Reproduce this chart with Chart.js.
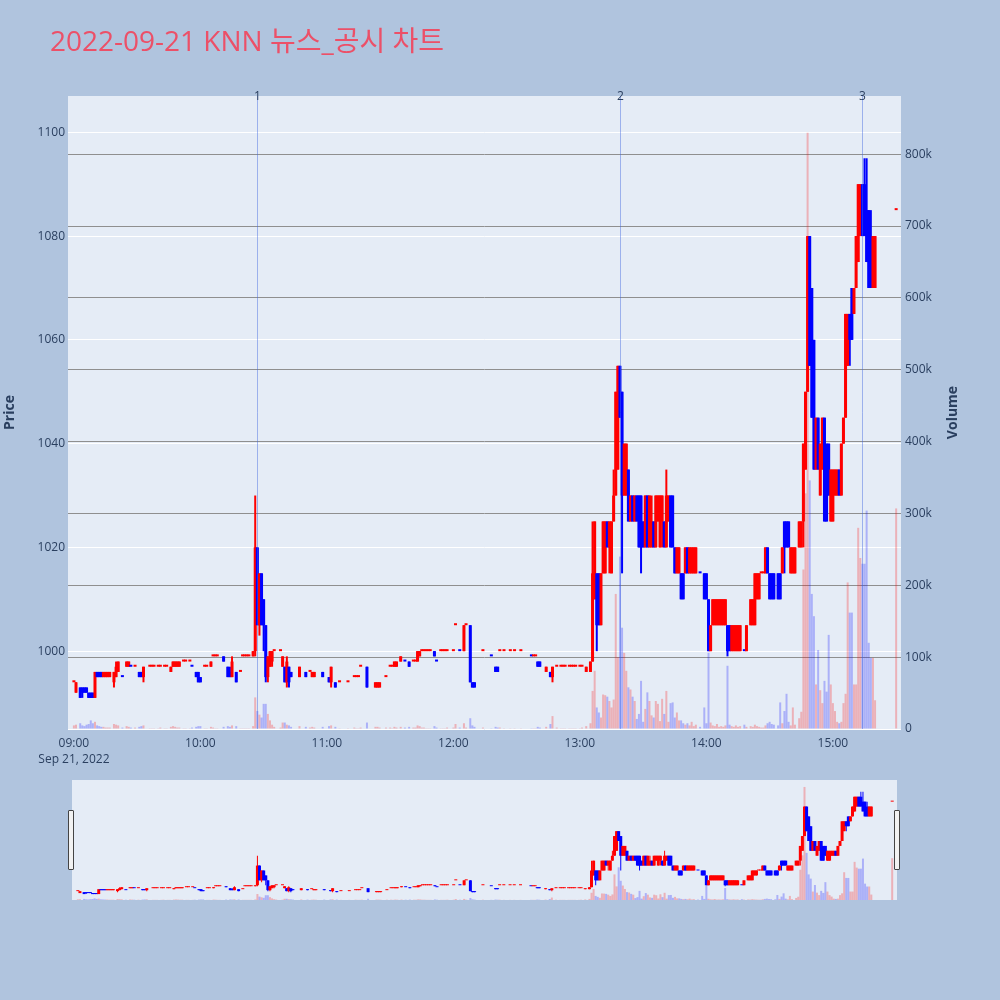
<!DOCTYPE html>
<html lang="ko">

<head>
    <meta charset="UTF-8">
    <meta name="viewport" content="width=device-width, initial-scale=1.0">
    <title>KNN 뉴스_공시 차트</title>
    <style>
        body {
            margin: 0;
            background: #b0c4de;
            font-family: "Open Sans", "Noto Sans CJK KR", sans-serif;
        }

        .page {
            position: relative;
            width: 1000px;
            height: 1000px;
        }

        #mainChart {
            position: absolute;
            left: 0;
            top: 0;
        }

        #sliderChart {
            position: absolute;
            left: 72px;
            top: 780px;
        }

        .handle {
            position: absolute;
            top: 810px;
            width: 4px;
            height: 58px;
            background: #f2f2f2;
            border: 1px solid #444;
            border-radius: 1px;
        }
    </style>
</head>

<body>
    <div class="page">
        <canvas id="mainChart" width="1000" height="780"></canvas>
        <canvas id="sliderChart" width="825" height="120"></canvas>
        <div class="handle" style="left:68px"></div>
        <div class="handle" style="left:894px"></div>
    </div>

    <script src="https://cdn.jsdelivr.net/npm/chart.js"></script>
    <script>
        const chartTitle = '2022-09-21 KNN 뉴스_공시 차트';
        const dateLabel = 'Sep 21, 2022';
        const hourTicks = ['09:00', '10:00', '11:00', '12:00', '13:00', '14:00', '15:00'];
        const priceTicks = [1000, 1020, 1040, 1060, 1080, 1100];
        const volumeTicks = [0, 100, 200, 300, 400, 500, 600, 700, 800]; // thousand shares
        const newsTimes = ['10:27', '13:19', '15:14'];
        const newsLabels = ['1', '2', '3'];

        // minute after 09:00 for every 1-minute candle
        const minutes = [
            0, 1, 3, 4, 5, 6, 7, 8, 9, 10, 11, 12, 13, 14, 15, 16, 17, 19, 20, 21, 23, 25, 26, 27, 29, 31, 32, 33, 36, 37, 38, 40, 41, 43, 44, 46, 47, 48, 49, 50, 52, 53, 55, 56, 58, 59, 60, 62, 63, 65, 66,
            67, 68, 71, 73, 74, 75, 77, 79, 80, 81, 82, 83, 85, 86, 87, 88, 89, 90, 91, 92, 93, 94, 95, 98, 99, 100, 101, 102, 103, 107, 110, 112, 113, 114, 118, 121, 122, 124, 126, 130, 133, 134, 135, 136,
            139, 143, 144, 145, 148, 150, 151, 152, 153, 155, 157, 159, 161, 162, 163, 164, 165, 166, 167, 168, 169, 171, 172, 174, 175, 176, 177, 180, 181, 183, 185, 186, 188, 189, 190, 194, 198, 200, 201, 202, 204,
            207, 209, 212, 217, 218, 219, 220, 221, 224, 226, 227, 229, 231, 232, 233, 235, 236, 237, 238, 240, 241, 243, 245, 246, 247, 248, 249, 250, 251, 252, 253, 254, 255, 256, 257, 258, 259, 260, 261, 262, 263, 264, 265, 266, 267, 268, 269, 270, 271, 272, 273, 274,
            275, 276, 277, 278, 279, 280, 281, 282, 283, 284, 285, 286, 287, 288, 289, 290, 291, 292, 293, 294, 295, 297, 299, 300, 301, 302, 303, 304, 305, 306, 307, 308, 309, 310, 311, 312, 313, 314, 315, 316, 318, 319, 321, 322, 323, 324, 325, 326, 327, 328, 329, 330, 331, 332, 334, 335, 336, 337, 338, 339, 340, 341, 342,
            344, 345, 346, 347, 348, 349, 350, 351, 352, 353, 354, 355, 356, 357, 358, 359, 360, 361, 362, 363, 364, 365, 366, 367, 368, 369, 370, 371, 372, 373, 374, 375, 376, 377, 378, 379, 380, 390
        ];
        const opens = [
            994, 992, 993, 993, 993, 993, 992, 992, 992, 991, 996, 996, 996, 995, 995, 995, 995, 994, 995, 996, 995, 997, 997, 997, 997, 996, 996, 995, 997, 997, 997, 997, 997, 997, 997, 996, 997, 997, 997, 997, 998, 998, 998, 997, 996, 996, 995, 997, 997, 997, 999,
            999, 999, 999, 997, 996, 995, 996, 996, 999, 999, 999, 999, 999, 1000, 1020, 1005, 1015, 1010, 1005, 995, 997, 998, 1000, 1000, 997, 997, 994, 997, 996, 995, 996, 996, 995, 995, 996, 995, 994, 994, 994, 994, 995, 995, 995, 997,
            997, 993, 993, 993, 995, 997, 997, 997, 997, 998, 998, 998, 998, 998, 998, 999, 1000, 1000, 1000, 1000, 1000, 1000, 998, 1000, 1000, 1000, 1000, 1000, 1005, 1000, 1000, 1005, 1005, 994, 994, 1000, 999, 997, 997, 1000, 1000,
            1000, 1000, 1000, 999, 999, 999, 998, 998, 996, 996, 995, 997, 997, 997, 997, 997, 997, 997, 997, 997, 997, 996, 996, 998, 1010, 1015, 1015, 1005, 1015, 1015, 1025, 1020, 1015, 1025, 1030, 1035, 1055, 1050, 1030, 1030, 1035, 1025, 1030, 1025, 1030, 1030, 1030, 1025, 1020, 1030, 1020, 1020,
            1025, 1020, 1025, 1020, 1025, 1025, 1020, 1025, 1030, 1030, 1020, 1015, 1015, 1015, 1015, 1015, 1020, 1015, 1015, 1015, 1015, 1015, 1015, 1015, 1010, 1000, 1005, 1005, 1005, 1005, 1005, 1005, 1005, 1005, 1005, 1000, 1000, 1000, 1000, 1000, 1000, 1000, 1005, 1005, 1005, 1010, 1010, 1015, 1015, 1015, 1020, 1015, 1015, 1015, 1015, 1015, 1015, 1025, 1025, 1025, 1015, 1015, 1015,
            1020, 1020, 1025, 1035, 1050, 1080, 1070, 1060, 1035, 1045, 1030, 1035, 1045, 1040, 1040, 1025, 1025, 1030, 1030, 1035, 1030, 1040, 1045, 1055, 1065, 1070, 1065, 1070, 1075, 1080, 1090, 1090, 1085, 1085, 1080, 1070, 1070, 1085
        ];
        const highs = [
            994, 994, 993, 993, 993, 993, 992, 992, 992, 996, 996, 996, 996, 996, 996, 996, 996, 996, 998, 998, 995, 998, 998, 997, 997, 996, 996, 997, 997, 997, 997, 997, 997, 997, 997, 997, 998, 998, 998, 998, 998, 998, 998, 997, 996, 996, 995, 997, 997, 998, 999,
            999, 999, 999, 997, 997, 999, 996, 996, 999, 999, 999, 999, 1000, 1030, 1020, 1015, 1015, 1010, 1005, 999, 1000, 1000, 1000, 1000, 999, 997, 999, 997, 996, 997, 996, 996, 996, 996, 996, 995, 997, 994, 994, 994, 995, 995, 995, 997,
            997, 994, 994, 994, 995, 997, 997, 998, 998, 999, 998, 998, 998, 998, 1000, 1000, 1000, 1000, 1000, 1000, 1000, 1000, 998, 1000, 1000, 1000, 1000, 1000, 1005, 1000, 1005, 1005, 1005, 994, 994, 1000, 999, 997, 997, 1000, 1000,
            1000, 1000, 1000, 999, 999, 999, 998, 998, 997, 996, 997, 997, 997, 997, 997, 997, 997, 997, 997, 997, 997, 997, 998, 1025, 1025, 1015, 1015, 1015, 1025, 1025, 1025, 1025, 1025, 1035, 1050, 1055, 1055, 1050, 1040, 1040, 1035, 1030, 1030, 1030, 1030, 1030, 1030, 1025, 1030, 1030, 1030, 1030,
            1025, 1030, 1030, 1030, 1030, 1025, 1035, 1030, 1030, 1030, 1020, 1020, 1020, 1015, 1015, 1020, 1020, 1020, 1020, 1020, 1020, 1015, 1015, 1015, 1010, 1005, 1010, 1010, 1010, 1010, 1010, 1010, 1010, 1005, 1005, 1005, 1005, 1005, 1005, 1005, 1000, 1005, 1010, 1010, 1015, 1015, 1015, 1015, 1015, 1020, 1020, 1015, 1015, 1015, 1015, 1015, 1020, 1025, 1025, 1025, 1020, 1020, 1020,
            1025, 1025, 1040, 1050, 1080, 1080, 1070, 1060, 1045, 1045, 1040, 1045, 1045, 1040, 1040, 1035, 1035, 1035, 1035, 1035, 1040, 1045, 1065, 1065, 1065, 1070, 1070, 1080, 1090, 1090, 1090, 1095, 1095, 1085, 1085, 1080, 1080, 1085
        ];
        const lows = [
            994, 992, 991, 991, 992, 992, 991, 991, 991, 991, 995, 995, 995, 995, 995, 995, 995, 993, 995, 996, 995, 997, 997, 997, 997, 995, 995, 994, 997, 997, 997, 997, 997, 997, 997, 996, 997, 997, 997, 997, 998, 998, 998, 997, 995, 994, 994, 997, 997, 997, 999,
            999, 999, 998, 995, 995, 995, 994, 996, 999, 999, 999, 999, 999, 999, 1005, 1003, 1005, 1000, 994, 994, 997, 997, 1000, 1000, 997, 994, 993, 993, 995, 995, 995, 996, 995, 995, 995, 994, 993, 993, 994, 994, 995, 995, 995, 997,
            993, 993, 993, 993, 995, 997, 997, 997, 997, 998, 998, 997, 998, 998, 998, 999, 1000, 1000, 1000, 1000, 1000, 999, 998, 1000, 1000, 1000, 1000, 1000, 1005, 1000, 1000, 1005, 994, 993, 993, 1000, 999, 996, 996, 1000, 1000,
            1000, 1000, 1000, 999, 999, 999, 997, 997, 996, 995, 994, 997, 997, 997, 997, 997, 997, 997, 997, 997, 997, 996, 996, 998, 1010, 1000, 1005, 1005, 1015, 1015, 1020, 1015, 1015, 1025, 1030, 1035, 1045, 1015, 1030, 1030, 1025, 1025, 1025, 1025, 1025, 1020, 1015, 1020, 1020, 1020, 1020, 1020,
            1020, 1020, 1025, 1020, 1020, 1020, 1020, 1025, 1020, 1020, 1015, 1015, 1015, 1010, 1010, 1015, 1015, 1015, 1015, 1015, 1015, 1015, 1010, 1010, 1000, 1000, 1005, 1005, 1005, 1005, 1005, 1005, 1005, 999, 1000, 1000, 1000, 1000, 1000, 1000, 1000, 1000, 1005, 1005, 1005, 1010, 1010, 1015, 1015, 1015, 1015, 1010, 1010, 1010, 1010, 1010, 1015, 1015, 1020, 1020, 1015, 1015, 1015,
            1020, 1020, 1020, 1035, 1050, 1055, 1045, 1035, 1035, 1035, 1030, 1035, 1025, 1025, 1030, 1025, 1025, 1030, 1030, 1030, 1030, 1040, 1045, 1055, 1055, 1060, 1065, 1070, 1075, 1080, 1080, 1080, 1075, 1070, 1070, 1070, 1070, 1085
        ];
        const closes = [
            994, 994, 991, 992, 992, 992, 991, 991, 991, 996, 995, 995, 995, 996, 996, 996, 996, 996, 997, 998, 995, 998, 998, 997, 997, 995, 995, 997, 997, 997, 997, 997, 997, 997, 997, 997, 998, 998, 998, 998, 998, 998, 998, 997, 995, 994, 994, 997, 997, 998, 999,
            999, 999, 998, 995, 995, 998, 994, 996, 999, 999, 999, 999, 1000, 1020, 1005, 1015, 1005, 1005, 995, 999, 1000, 1000, 1000, 1000, 999, 994, 998, 994, 995, 997, 995, 996, 996, 996, 995, 994, 997, 993, 994, 994, 995, 995, 995, 997,
            993, 994, 994, 994, 995, 997, 997, 998, 998, 999, 998, 997, 998, 998, 1000, 1000, 1000, 1000, 1000, 1000, 1000, 999, 998, 1000, 1000, 1000, 1000, 1000, 1005, 1000, 1005, 1005, 994, 993, 993, 1000, 999, 996, 996, 1000, 1000,
            1000, 1000, 1000, 999, 999, 999, 997, 997, 997, 995, 997, 997, 997, 997, 997, 997, 997, 997, 997, 997, 997, 997, 998, 1015, 1025, 1005, 1005, 1015, 1025, 1025, 1020, 1025, 1025, 1030, 1050, 1055, 1045, 1030, 1040, 1040, 1025, 1030, 1025, 1030, 1025, 1020, 1020, 1020, 1030, 1020, 1030, 1025,
            1020, 1030, 1030, 1030, 1030, 1020, 1030, 1030, 1020, 1020, 1015, 1020, 1020, 1010, 1010, 1020, 1015, 1020, 1020, 1020, 1020, 1015, 1010, 1010, 1000, 1005, 1010, 1010, 1010, 1010, 1010, 1010, 1010, 1000, 1000, 1005, 1005, 1005, 1005, 1005, 1000, 1005, 1010, 1010, 1015, 1015, 1015, 1015, 1015, 1020, 1015, 1010, 1010, 1010, 1010, 1010, 1020, 1020, 1020, 1020, 1020, 1020, 1020,
            1025, 1025, 1040, 1050, 1080, 1055, 1045, 1035, 1045, 1035, 1040, 1045, 1025, 1025, 1030, 1035, 1035, 1035, 1035, 1030, 1040, 1045, 1065, 1065, 1060, 1060, 1070, 1080, 1090, 1090, 1080, 1080, 1075, 1070, 1070, 1080, 1080, 1085
        ];
        // thousand shares
        const volumes = [
            5, 6, 8, 5, 4, 6, 7, 12, 8, 10, 5, 4, 3, 3, 2, 2, 2, 7, 6, 5, 2, 4, 3, 2, 2, 3, 4, 5, 1, 1, 1, 1, 2, 1, 1, 3, 4, 3, 2, 2, 1, 1, 1, 2, 3, 4, 4, 1, 1, 3, 2,
            1, 1, 3, 4, 3, 5, 4, 1, 1, 1, 1, 1, 4, 44, 25, 20, 16, 35, 35, 21, 12, 6, 3, 2, 9, 9, 6, 5, 3, 4, 3, 2, 3, 2, 3, 4, 5, 3, 1, 1, 2, 1, 1, 2,
            9, 3, 3, 2, 2, 2, 1, 3, 2, 3, 2, 3, 2, 2, 5, 4, 2, 2, 1, 1, 1, 4, 2, 1, 1, 1, 2, 2, 7, 2, 8, 2, 15, 5, 3, 2, 1, 3, 2, 2, 1,
            1, 1, 1, 1, 1, 1, 3, 2, 3, 7, 18, 2, 1, 1, 1, 1, 1, 1, 1, 1, 2, 4, 8, 53, 81, 30, 23, 16, 48, 47, 45, 39, 30, 41, 188, 100, 240, 141, 106, 81, 58, 55, 45, 39, 14, 21, 67, 10, 28, 51, 39, 19,
            16, 39, 35, 11, 42, 21, 53, 10, 36, 37, 16, 23, 12, 12, 8, 6, 8, 5, 10, 4, 6, 3, 30, 8, 106, 9, 5, 4, 7, 3, 4, 3, 5, 88, 6, 4, 3, 5, 3, 4, 6, 3, 4, 3, 6, 4, 3, 2, 2, 5, 8, 10, 7, 6, 5, 37, 8, 25, 49, 10, 5, 30, 6,
            15, 24, 222, 328, 830, 346, 188, 157, 62, 110, 54, 36, 67, 52, 131, 62, 36, 25, 10, 8, 10, 36, 49, 204, 162, 162, 62, 62, 280, 238, 230, 230, 304, 120, 99, 99, 40, 307
        ];

        const lens = [minutes, opens, highs, lows, closes, volumes].map(a => a.length);
        if (new Set(lens).size !== 1) throw new Error('length mismatch ' + lens.join(','));

        const toMinute = hhmm => {
            const [h, m] = hhmm.split(':').map(Number);
            return (h - 9) * 60 + m;
        };

        // plotly style: flat candles take direction from the previous close
        const isUp = closes.map((c, i) => c > opens[i] || (c === opens[i] && (i === 0 || c >= closes[i - 1])));
        const candleColor = isUp.map(u => u ? '#ff0000' : '#0000ff');
        const volumeColor = isUp.map(u => u ? 'rgba(255,0,0,0.25)' : 'rgba(0,0,255,0.25)');

        function makeDatasets(wickW, bodyW, volW, minLen) {
            return [{
                label: 'Volume',
                yAxisID: 'y1',
                order: 3,
                grouped: false,
                inflateAmount: 0,
                barThickness: volW,
                data: minutes.map((m, i) => ({ x: m, y: volumes[i] })),
                backgroundColor: volumeColor,
            }, {
                label: 'wick',
                yAxisID: 'y',
                order: 2,
                grouped: false,
                inflateAmount: 0,
                barThickness: wickW,
                data: minutes.map((m, i) => ({ x: m, y: [lows[i], highs[i]] })),
                backgroundColor: candleColor,
            }, {
                label: 'body',
                yAxisID: 'y',
                order: 1,
                grouped: false,
                inflateAmount: 0,
                barThickness: bodyW,
                minBarLength: minLen,
                data: minutes.map((m, i) => ({ x: m, y: [opens[i], closes[i]] })),
                backgroundColor: candleColor,
            }];
        }

        const plotBg = {
            id: 'plotBg',
            beforeDraw(chart) {
                const { ctx, chartArea: a } = chart;
                ctx.save();
                ctx.fillStyle = '#e5ecf6';
                ctx.fillRect(a.left, a.top, a.right - a.left, a.bottom - a.top);
                ctx.restore();
            }
        };

        // news markers, volume axis title and page title
        const overlay = {
            id: 'overlay',
            afterDatasetsDraw(chart) {
                const { ctx, chartArea: a, scales } = chart;
                ctx.save();
                newsTimes.forEach((t, i) => {
                    const x = Math.round(scales.x.getPixelForValue(toMinute(t))) + 0.5;
                    ctx.strokeStyle = 'rgba(65,105,225,0.45)';
                    ctx.lineWidth = 1;
                    ctx.beginPath();
                    ctx.moveTo(x, a.top);
                    ctx.lineTo(x, a.bottom);
                    ctx.stroke();
                    ctx.fillStyle = '#2a3f5f';
                    ctx.font = '12px "Open Sans", sans-serif';
                    ctx.textAlign = 'center';
                    ctx.textBaseline = 'middle';
                    ctx.fillText(newsLabels[i], x, a.top + 1);
                });

                ctx.save();
                ctx.translate(953, (a.top + a.bottom) / 2);
                ctx.rotate(-Math.PI / 2);
                ctx.fillStyle = '#2a3f5f';
                ctx.font = 'bold 14px "Open Sans", sans-serif';
                ctx.textAlign = 'center';
                ctx.textBaseline = 'middle';
                ctx.fillText('Volume', 0, 0);
                ctx.restore();

                ctx.fillStyle = 'rgb(236,80,104)';
                ctx.font = '28px "Open Sans", "Noto Sans CJK KR", sans-serif';
                ctx.textAlign = 'left';
                ctx.textBaseline = 'alphabetic';
                ctx.fillText(chartTitle, 50, 51);
                ctx.restore();
            }
        };

        const tickFont = { family: '"Open Sans", sans-serif', size: 12 };
        const axisTitleFont = { family: '"Open Sans", sans-serif', size: 14, weight: 'bold' };
        const xMin = -2.8, xMax = 392.3;

        new Chart(document.getElementById('mainChart'), {
            type: 'bar',
            data: { datasets: makeDatasets(2, 3, 2, 2) },
            options: {
                responsive: false,
                animation: false,
                layout: { padding: { top: 96, right: 36, bottom: 0, left: 0 } },
                plugins: { legend: { display: false }, tooltip: { enabled: false } },
                scales: {
                    x: {
                        type: 'linear',
                        min: xMin,
                        max: xMax,
                        offset: false,
                        grid: { display: false },
                        border: { display: false },
                        afterBuildTicks: s => { s.ticks = hourTicks.map(h => ({ value: toMinute(h) })); },
                        afterFit: s => { s.height = 51; },
                        ticks: {
                            autoSkip: false,
                            maxRotation: 0,
                            padding: -2,
                            color: '#2a3f5f',
                            font: { ...tickFont, lineHeight: 1.35 },
                            callback: (v, i) => i === 0 ? [hourTicks[0], dateLabel] : hourTicks[i],
                        },
                    },
                    y: {
                        position: 'left',
                        min: 985,
                        max: 1107,
                        grid: { color: '#ffffff', drawTicks: false },
                        border: { display: false },
                        afterBuildTicks: s => { s.ticks = priceTicks.map(v => ({ value: v })); },
                        afterFit: s => { s.width = 68; },
                        ticks: { padding: 3, color: '#2a3f5f', font: tickFont, callback: v => String(v) },
                        title: { display: true, text: 'Price', color: '#2a3f5f', font: axisTitleFont, padding: 2 },
                    },
                    y1: {
                        position: 'right',
                        min: 0,
                        max: 881,
                        grid: {
                            drawTicks: false,
                            color: c => c.tick && c.tick.value === 0 ? '#ffffff' : '#8f8f8f',
                        },
                        border: { display: false },
                        afterBuildTicks: s => { s.ticks = volumeTicks.map(v => ({ value: v })); },
                        afterFit: s => { s.width = 63; },
                        ticks: {
                            padding: 4,
                            color: '#2a3f5f',
                            font: tickFont,
                            callback: v => v === 0 ? '0' : v + 'k',
                        },
                    },
                },
            },
            plugins: [plotBg, overlay],
        });

        // range slider: same traces, whole day
        new Chart(document.getElementById('sliderChart'), {
            type: 'bar',
            data: { datasets: makeDatasets(1, 3, 2, 1) },
            options: {
                responsive: false,
                animation: false,
                layout: { padding: 0 },
                plugins: { legend: { display: false }, tooltip: { enabled: false } },
                scales: {
                    x: { type: 'linear', min: xMin, max: xMax, offset: false, display: false },
                    y: { min: 985, max: 1107, display: false },
                    y1: { min: 0, max: 881, display: false },
                },
            },
            plugins: [plotBg],
        });
    </script>
</body>

</html>
